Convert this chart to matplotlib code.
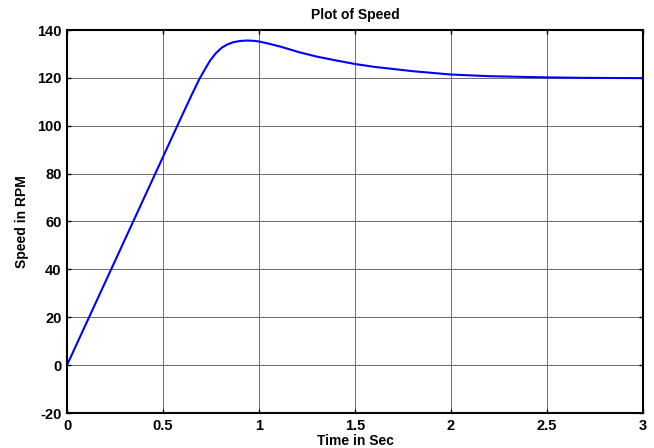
import matplotlib
matplotlib.use("Agg")
import matplotlib.pyplot as plt

# Speed response
time_s = [0, 0.1, 0.2, 0.3, 0.4, 0.5, 0.6, 0.65, 0.69, 0.72, 0.745, 0.775, 0.806,
          0.836, 0.866, 0.9, 0.936, 0.97, 1.0, 1.05, 1.11, 1.21, 1.3, 1.4, 1.5,
          1.6, 1.8, 2.0, 2.2, 2.5, 2.7, 3.0]
speed_rpm = [0, 17.4, 34.8, 52.2, 69.6, 87.0, 104.4, 113.0, 119.6, 123.8, 127.2,
             130.3, 132.6, 134.0, 134.9, 135.4, 135.6, 135.5, 135.2, 134.3, 133.1,
             130.7, 128.9, 127.3, 125.8, 124.6, 122.8, 121.4, 120.7, 120.2, 120.0,
             119.9]
x_ticks = [0, 0.5, 1, 1.5, 2, 2.5, 3]
y_ticks = [-20, 0, 20, 40, 60, 80, 100, 120, 140]

plt.rcParams["font.family"] = ["Liberation Sans", "DejaVu Sans"]
plt.rcParams["font.weight"] = "bold"
plt.rcParams["axes.unicode_minus"] = False

fig = plt.figure(figsize=(6.54, 4.48), dpi=100)
ax = fig.add_axes([67 / 654, 1 - 413 / 448, (643 - 67) / 654, (413 - 30) / 448])

ax.plot(time_s, speed_rpm, color="#0000ff", linewidth=1.5)

ax.set_xlim(0, 3)
ax.set_ylim(-20, 140)
ax.set_xticks(x_ticks)
ax.set_xticklabels([f"{t:g}" for t in x_ticks])
ax.set_yticks(y_ticks)

ax.grid(True, color="#555555", linewidth=0.6)
ax.tick_params(direction="in", length=3, width=1, top=True, right=True,
               labelsize=10.5, pad=4)
for s in ax.spines.values():
    s.set_linewidth(1.5)

ax.set_title("Plot of Speed", fontsize=10, fontweight="bold", pad=8)
ax.set_xlabel("Time in Sec", fontsize=10, fontweight="bold", labelpad=1)
ax.set_ylabel("Speed in RPM", fontsize=10, fontweight="bold", labelpad=6)

fig.savefig("out.png", dpi=100)
